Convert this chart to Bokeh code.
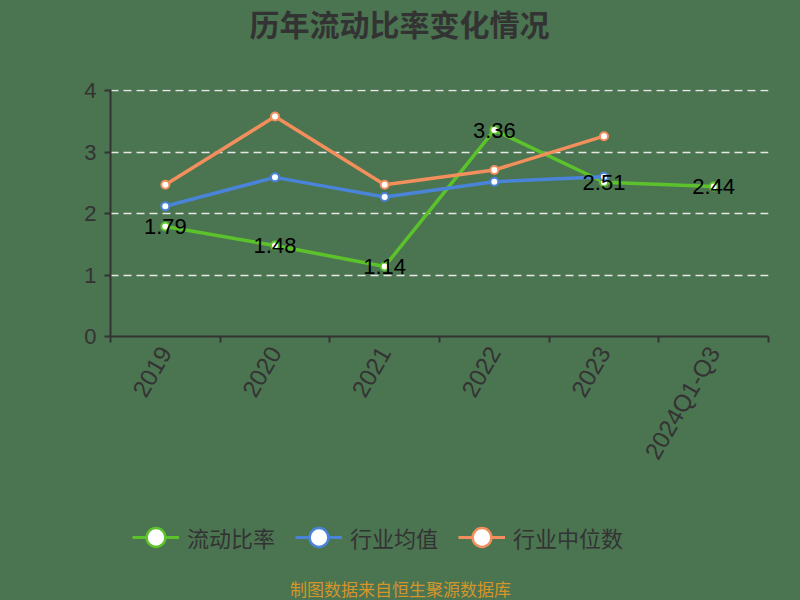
import math
from bokeh.plotting import figure
from bokeh.layouts import column
from bokeh.models import (FixedTicker, Legend, LegendItem, Label, Range1d,
                          ColumnDataSource, LabelSet)
from bokeh.core.properties import value
from bokeh.embed import file_html
from bokeh.resources import INLINE

categories = ["2019", "2020", "2021", "2022", "2023", "2024Q1-Q3"]
current_ratio = [1.79, 1.48, 1.14, 3.36, 2.51, 2.44]
industry_mean = [2.12, 2.59, 2.27, 2.52, 2.60]
industry_median = [2.47, 3.58, 2.47, 2.71, 3.26]
y_ticks = [0, 1, 2, 3, 4]
series_names = ["流动比率", "行业均值", "行业中位数"]
title_text = "历年流动比率变化情况"
source_text = "制图数据来自恒生聚源数据库"

BG = "#4b7451"
DARK = "#333333"
GREEN = "#5cc22c"
BLUE = "#4a84d8"
ORANGE = "#f28f5c"
COLORS = [GREEN, BLUE, ORANGE]
CJK = "Noto Sans CJK SC"
LAT = "Liberation Sans"

FRAME_L, FRAME_R = 110, 768   # main plot frame edges in page pixels

xpos = [i + 0.5 for i in range(len(categories))]
edges = list(range(len(categories) + 1))

src_cur = ColumnDataSource(dict(x=xpos, y=current_ratio,
                                t=[f"{v:.2f}" for v in current_ratio]))
src_mean = ColumnDataSource(dict(x=xpos[:len(industry_mean)], y=industry_mean))
src_med = ColumnDataSource(dict(x=xpos[:len(industry_median)], y=industry_median))


def strip(h):
    f = figure(width=800, height=h, output_backend="svg", toolbar_location=None,
               x_range=Range1d(FRAME_L, FRAME_R), y_range=Range1d(0, h),
               x_axis_location=None, y_axis_location=None,
               min_border_left=FRAME_L, min_border_right=800 - FRAME_R,
               min_border_top=0, min_border_bottom=0,
               background_fill_color=None, border_fill_color=None,
               outline_line_color=None)
    f.grid.grid_line_color = None
    return f


# ---- title strip ----
top = strip(77)
top.add_layout(Label(x=399, y=55, text=title_text, text_align="center",
                     text_baseline="middle", text_font=CJK,
                     text_font_size="30px", text_font_style="bold",
                     text_color=DARK))

# ---- main chart ----
p = figure(width=800, height=403, output_backend="svg", toolbar_location=None,
           x_range=Range1d(0, len(categories)), y_range=Range1d(0, 4.02),
           min_border_left=FRAME_L, min_border_right=800 - FRAME_R,
           min_border_top=12, min_border_bottom=144,
           background_fill_color=None, border_fill_color=None,
           outline_line_color=None)

p.xaxis.ticker = FixedTicker(ticks=xpos, minor_ticks=edges)
p.xaxis.major_label_overrides = {x: c for x, c in zip(xpos, categories)}
p.xaxis.major_label_orientation = math.pi / 3
p.xaxis.major_tick_line_color = None
p.xaxis.minor_tick_line_color = DARK
p.xaxis.minor_tick_out = 6
p.xaxis.minor_tick_in = 0
p.xaxis.minor_tick_line_width = 2
p.xaxis.axis_line_color = DARK
p.xaxis.axis_line_width = 2
p.xaxis.major_label_text_font = LAT
p.xaxis.major_label_text_font_size = "24px"
p.xaxis.major_label_text_color = DARK
p.xaxis.major_label_standoff = 6

p.yaxis.ticker = FixedTicker(ticks=y_ticks)
p.yaxis.minor_tick_line_color = None
p.yaxis.major_tick_line_color = DARK
p.yaxis.major_tick_line_width = 2
p.yaxis.major_tick_out = 6
p.yaxis.major_tick_in = 0
p.yaxis.axis_line_color = DARK
p.yaxis.axis_line_width = 2
p.yaxis.major_label_text_font = LAT
p.yaxis.major_label_text_font_size = "22px"
p.yaxis.major_label_text_color = DARK
p.yaxis.major_label_standoff = 8

p.xgrid.grid_line_color = None
p.ygrid.ticker = FixedTicker(ticks=y_ticks[1:])
p.ygrid.grid_line_color = "#e6e6e6"
p.ygrid.grid_line_dash = "8 5"
p.ygrid.grid_line_width = 1.5

for src, col in zip([src_cur, src_mean, src_med], COLORS):
    p.line("x", "y", source=src, line_color=col, line_width=3.5)
    p.scatter("x", "y", source=src, size=8, fill_color="white",
              line_color=col, line_width=2)

p.add_layout(LabelSet(x="x", y="y", text="t", source=src_cur,
                      text_align="center", text_baseline="middle",
                      text_font=value(LAT), text_font_size=value("22px"),
                      text_color="black"))

# ---- legend + source strip ----
bot = strip(120)
items = []
for name, col in zip(series_names, COLORS):
    # legend-only renderers (no visible data)
    dummy = ColumnDataSource(dict(x=[float("nan")], y=[float("nan")]))
    rl = bot.line("x", "y", source=dummy, line_color=col, line_width=3)
    rm = bot.scatter("x", "y", source=dummy, size=19, fill_color="white",
                     line_color=col, line_width=2.5)
    items.append(LegendItem(label=name, renderers=[rl, rm]))

legend = Legend(items=items, orientation="horizontal",
                location=(128 - FRAME_L, 35),
                label_text_font=CJK, label_text_font_size="22px",
                label_text_color=DARK, background_fill_alpha=0,
                border_line_alpha=0, glyph_width=47, glyph_height=48,
                spacing=20, label_standoff=8, margin=0, padding=4)
bot.add_layout(legend)

bot.add_layout(Label(x=400, y=12, text=source_text, text_align="center",
                     text_baseline="middle", text_font=CJK,
                     text_font_size="17px", text_color="#d4952b"))

layout = column(top, p, bot, spacing=0, styles={"background-color": BG})
open("out.html", "w").write(file_html(layout, INLINE))
